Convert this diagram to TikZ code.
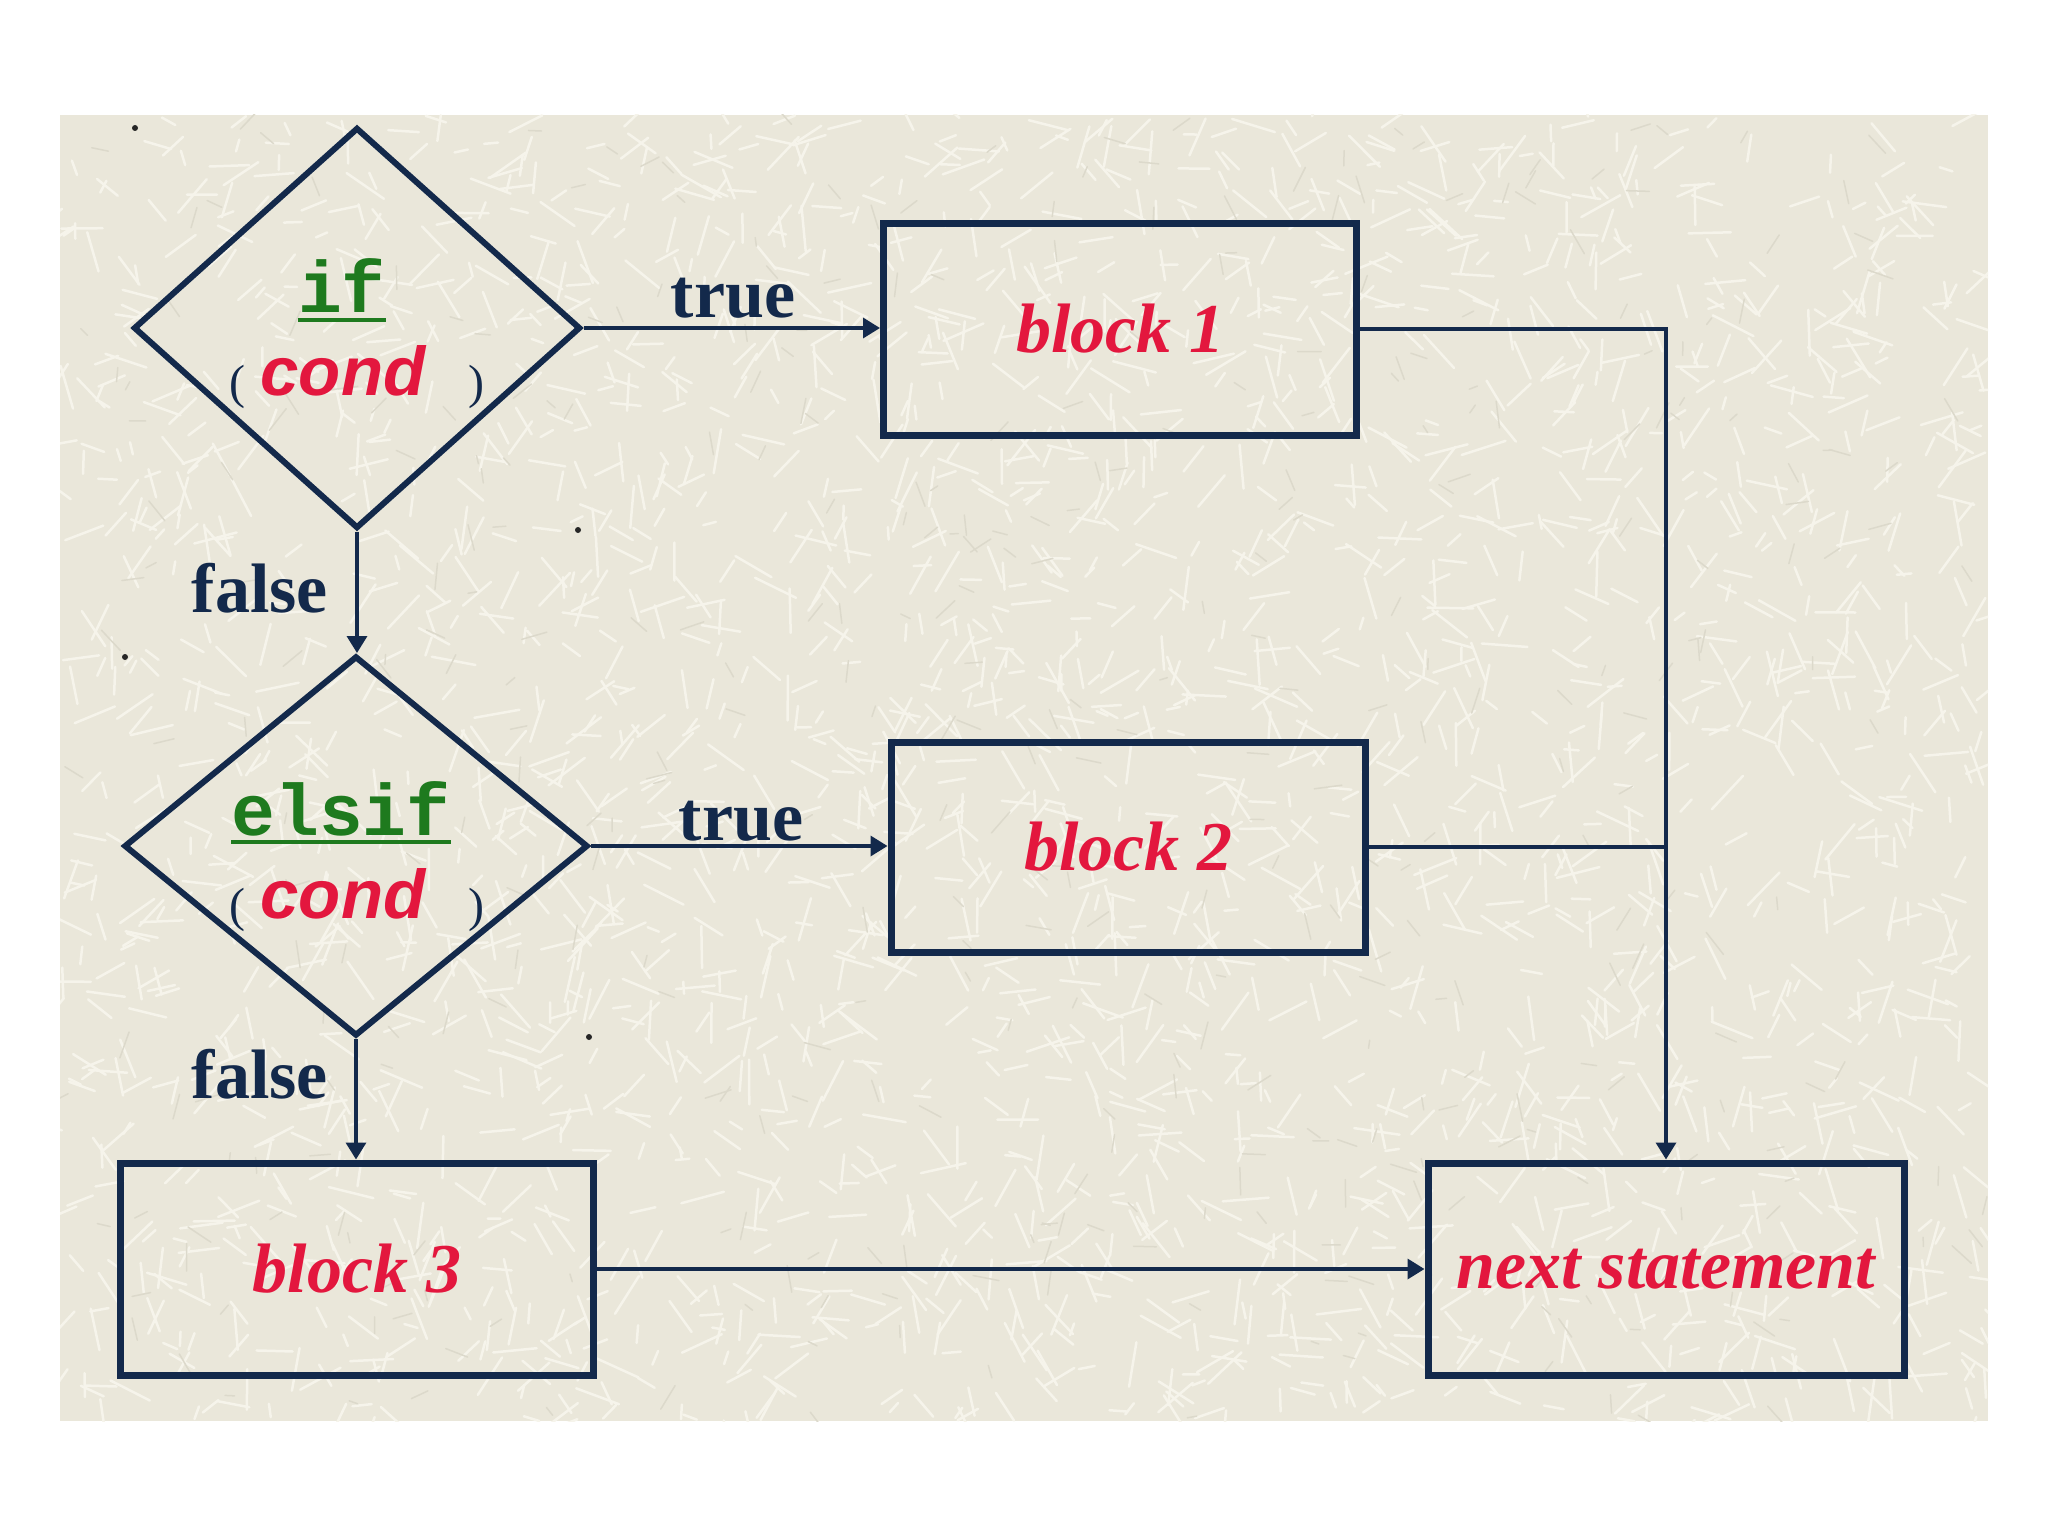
\documentclass[tikz,border=0pt]{standalone}
\usepackage{fontspec}
\usetikzlibrary{shapes.geometric,arrows.meta,calc}
\newfontfamily\serifbf{Liberation Serif}
\newfontfamily\sansbf{Liberation Sans}
\newfontfamily\monobf{Liberation Mono}
\definecolor{navy}{HTML}{13294B}
\definecolor{crim}{HTML}{E3173E}
\definecolor{grn}{HTML}{1E7A1E}
\definecolor{bgc}{HTML}{EAE7DA}
\definecolor{texlight}{HTML}{F6F4EB}
\definecolor{texdark}{HTML}{DCD9CB}
\begin{document}
\begin{tikzpicture}[x=1pt,y=-1pt,
  blockbox/.style={draw=navy, line width=7pt, minimum width=473pt, minimum height=212pt, inner sep=0pt, font=\serifbf\bfseries\itshape\fontsize{70}{80}\selectfont, text=crim},
  decision/.style={diamond, draw=navy, line width=6pt, inner sep=0pt},
  conn/.style={draw=navy, line width=3.5pt},
  witharrow/.style={-{Triangle[length=17pt,width=20pt]}},
  lab/.style={font=\serifbf\bfseries\fontsize{70}{80}\selectfont, text=navy, inner sep=0pt, anchor=base},
  kw/.style={font=\monobf\bfseries\fontsize{73}{80}\selectfont, text=grn, inner sep=0pt, anchor=base},
  cnd/.style={font=\sansbf\bfseries\itshape\fontsize{69}{80}\selectfont, text=crim, inner sep=0pt, anchor=base},
  paren/.style={font=\serifbf\fontsize{48}{52}\selectfont, text=navy, inner sep=0pt, anchor=base},
  smalldot/.style={circle, fill=black!85, inner sep=0pt, minimum size=6pt}
]
\useasboundingbox (0,0) rectangle (2048,1536);
\fill[white] (0,0) rectangle (2048,1536);
\fill[bgc] (60,115) rectangle (1988,1421);
\begin{scope}
\clip (60,115) rectangle (1988,1421);
\pgfmathsetseed{7}
\foreach \i in {1,...,2600}{
  \pgfmathsetmacro\xa{60+1928*rnd}
  \pgfmathsetmacro\ya{115+1306*rnd}
  \pgfmathsetmacro\an{360*rnd}
  \pgfmathsetmacro\ln{12+34*rnd}
  \draw[texlight, line width=2.5pt, line cap=round] (\xa,\ya) -- ++(\an:\ln);
}
\foreach \i in {1,...,400}{
  \pgfmathsetmacro\xa{60+1928*rnd}
  \pgfmathsetmacro\ya{115+1306*rnd}
  \pgfmathsetmacro\an{360*rnd}
  \pgfmathsetmacro\ln{8+20*rnd}
  \draw[texdark, line width=1.5pt, line cap=round] (\xa,\ya) -- ++(\an:\ln);
}
\end{scope}

% decisions
\node[decision, minimum width=447pt, minimum height=401pt] (d1) at (357,328) {};
\node[decision, minimum width=464pt, minimum height=380pt] (d2) at (356,846) {};

% blocks
\node[blockbox] (b1) at (1120,329) {block 1};
\node[blockbox, minimum width=474pt, minimum height=210pt] (b2) at (1128,847) {block 2};
\node[blockbox] (b3) at (357,1269) {block 3};
\node[blockbox, minimum width=476pt] (nx) at (1666,1269) {next statement};

% labels
\node[lab] (t1) at (733,317) {true};
\node[lab] (t2) at (741,840) {true};
\node[lab] (f1) at (260,612) {false};
\node[lab] (f2) at (260,1098) {false};

% diamond texts
\node[kw] (k1) at (342,312) {if};
\draw[grn, line width=4pt] ([yshift=-8pt]k1.base west) -- ([yshift=-8pt]k1.base east);
\node[cnd] (c1) at (343,395) {cond};
\node[paren] (pl1) at (237,398) {(};
\node[paren] (pr1) at (476,398) {)};

\node[kw] (k2) at (341,835) {elsif};
\draw[grn, line width=4pt] ([yshift=-7pt]k2.base west) -- ([yshift=-7pt]k2.base east);
\node[cnd] (c2) at (343,918) {cond};
\node[paren] (pl2) at (237,921) {(};
\node[paren] (pr2) at (476,921) {)};

% small dots
\node[smalldot] (dt1) at (135,128) {};
\node[smalldot] (dt2) at (578,530) {};
\node[smalldot] (dt3) at (125,657) {};
\node[smalldot] (dt4) at (589,1037) {};

% connectors
\draw[conn, witharrow] (d1.east) -- (d1.east -| b1.west);
\draw[conn, witharrow] (d2.east) -- (d2.east -| b2.west);
\draw[conn, witharrow] (d1.south) -- (d1.south |- d2.north);
\draw[conn, witharrow] (d2.south) -- (d2.south |- b3.north);
\draw[conn, witharrow] (b1.east) -| (nx.north);
\draw[conn] (b2.east) -- (b2.east -| nx.north);
\draw[conn, witharrow] (b3.east) -- (nx.west);
\end{tikzpicture}
\end{document}
